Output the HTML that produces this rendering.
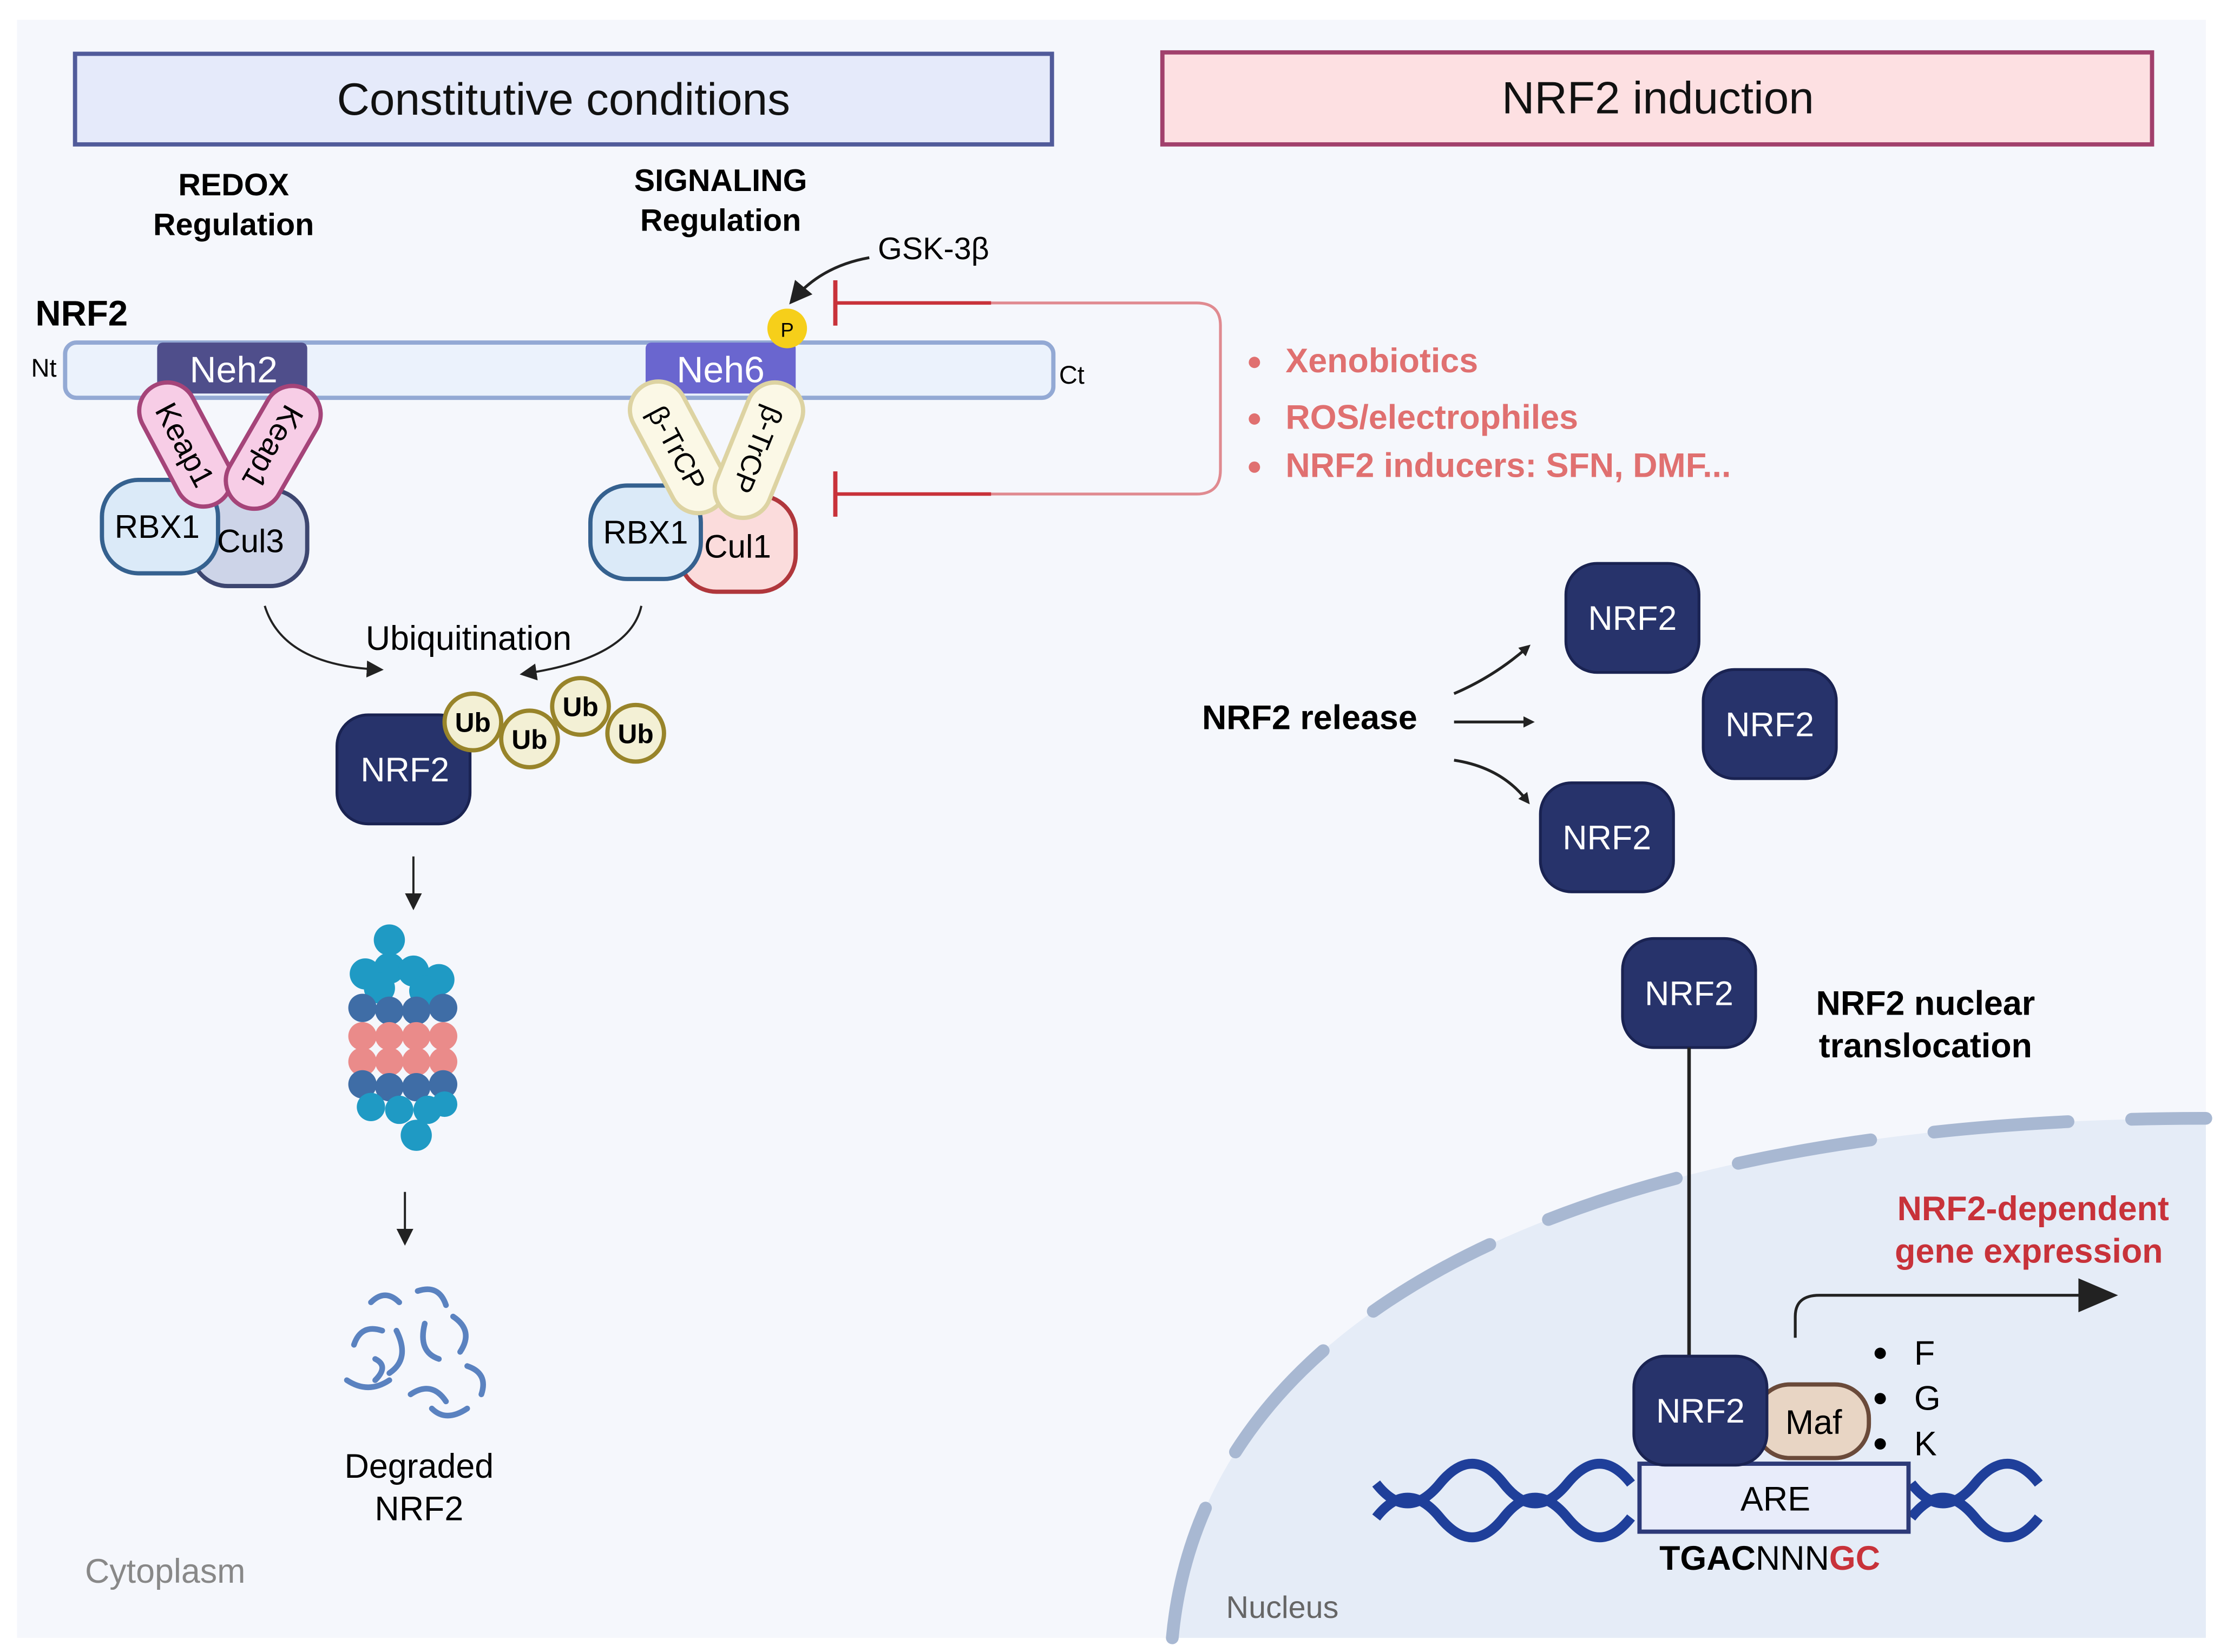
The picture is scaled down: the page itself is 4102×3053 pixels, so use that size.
<!DOCTYPE html>
<html><head><meta charset="utf-8"><style>html,body{margin:0;padding:0;background:#fff}svg{display:block}text{font-family:"Liberation Sans",sans-serif}</style></head><body>
<svg width="4102" height="3053" viewBox="0 0 1568 1167" xmlns="http://www.w3.org/2000/svg">
<defs>
<marker id="ah" markerWidth="8" markerHeight="8" refX="6" refY="4" orient="auto" markerUnits="strokeWidth"><path d="M0,0 L8,4 L0,8 z" fill="#222"/></marker>
<marker id="ahb" markerWidth="4" markerHeight="4" refX="2" refY="2" orient="auto" markerUnits="strokeWidth"><path d="M0,0 L4,2 L0,4 z" fill="#222"/></marker>
</defs>
<rect x="0" y="0" width="1568" height="1167" fill="#fff"/>
<rect x="12" y="14" width="1546" height="1143" fill="#f5f7fc"/>
<!-- nucleus -->
<path d="M828,1157 C850,920 1130,790 1558,790 L1558,1157 Z" fill="#e5ecf7"/>
<path d="M828,1157 C850,920 1130,790 1558,790" fill="none" stroke="#a8b8d2" stroke-width="9" stroke-dasharray="95,45" stroke-linecap="round"/>
<text x="866" y="1143" font-size="22" fill="#666">Nucleus</text>
<text x="60" y="1118" font-size="24" fill="#888">Cytoplasm</text>
<!-- header boxes -->
<rect x="53" y="38" width="690" height="64" fill="#e5eafa" stroke="#515b9a" stroke-width="3"/>
<text x="398" y="81" font-size="32" text-anchor="middle" fill="#111">Constitutive conditions</text>
<rect x="821" y="37" width="699" height="65" fill="#fde0e2" stroke="#a1406c" stroke-width="3"/>
<text x="1171" y="80" font-size="32" text-anchor="middle" fill="#111">NRF2 induction</text>
<text x="165" y="138" font-size="22" font-weight="bold" text-anchor="middle">REDOX</text>
<text x="165" y="166" font-size="22" font-weight="bold" text-anchor="middle">Regulation</text>
<text x="509" y="135" font-size="22" font-weight="bold" text-anchor="middle">SIGNALING</text>
<text x="509" y="163" font-size="22" font-weight="bold" text-anchor="middle">Regulation</text>
<text x="25" y="230" font-size="25" font-weight="bold">NRF2</text>
<text x="22" y="266" font-size="18">Nt</text>
<text x="748" y="271" font-size="18">Ct</text>
<rect x="46" y="242" width="698" height="39" rx="8" fill="#ebf2fc" stroke="#93a9d4" stroke-width="3"/>
<rect x="111" y="242" width="106" height="36" rx="4" fill="#4f4e8b"/>
<text x="165" y="270" font-size="26" fill="#fff" text-anchor="middle">Neh2</text>
<rect x="456" y="242" width="106" height="36" rx="4" fill="#6a66cf"/>
<text x="509" y="270" font-size="26" fill="#fff" text-anchor="middle">Neh6</text>
<!-- GSK -->
<text x="620" y="183" font-size="22">GSK-3β</text>
<path d="M614,182 Q580,188 560,212" fill="none" stroke="#222" stroke-width="2" marker-end="url(#ah)"/>
<circle cx="556" cy="232" r="14" fill="#f6cf1a"/>
<text x="556" y="238" font-size="14" text-anchor="middle">P</text>
<!-- inhibition lines -->
<path d="M590,214 L845,214 Q862,214 862,230 L862,332 Q862,349 845,349 L590,349" fill="none" stroke="#e08a90" stroke-width="2"/>
<path d="M590,214 L700,214 M590,349 L700,349" stroke="#c8323a" stroke-width="2.5"/>
<path d="M590,198 V230 M590,333 V365" stroke="#c8323a" stroke-width="3"/>
<g font-size="24" font-weight="bold" fill="#e07070">
<circle cx="886" cy="256" r="4" fill="#e07070"/><text x="908" y="263">Xenobiotics</text>
<circle cx="886" cy="296" r="4" fill="#e07070"/><text x="908" y="303">ROS/electrophiles</text>
<circle cx="886" cy="330" r="4" fill="#e07070"/><text x="908" y="337">NRF2 inducers: SFN, DMF...</text>
</g>
<!-- left complex -->
<rect x="135" y="346" width="82" height="68" rx="26" fill="#cdd4e8" stroke="#3d4670" stroke-width="3"/>
<rect x="72" y="339" width="82" height="66" rx="26" fill="#dbeaf8" stroke="#35618f" stroke-width="3"/>
<text x="111" y="380" font-size="23" text-anchor="middle">RBX1</text>
<text x="177" y="390" font-size="23" text-anchor="middle">Cul3</text>
<g transform="translate(131,314) rotate(62)"><rect x="-47" y="-20" width="94" height="40" rx="20" fill="#f7cde6" stroke="#a54479" stroke-width="3"/><text x="0" y="8" font-size="22" text-anchor="middle">Keap1</text></g>
<g transform="translate(193,316) rotate(120)"><rect x="-47" y="-20" width="94" height="40" rx="20" fill="#f7cde6" stroke="#a54479" stroke-width="3"/><text x="0" y="8" font-size="22" text-anchor="middle">Keap1</text></g>
<!-- right complex -->
<rect x="480" y="350" width="82" height="68" rx="26" fill="#fbdcdc" stroke="#b0373c" stroke-width="3"/>
<rect x="417" y="343" width="78" height="66" rx="26" fill="#dbeaf8" stroke="#35618f" stroke-width="3"/>
<text x="456" y="384" font-size="23" text-anchor="middle">RBX1</text>
<text x="521" y="394" font-size="23" text-anchor="middle">Cul1</text>
<g transform="translate(479,316) rotate(62)"><rect x="-50" y="-20" width="100" height="40" rx="20" fill="#fbf8e6" stroke="#ddd3a2" stroke-width="3"/><text x="0" y="8" font-size="20" text-anchor="middle">β-TrCP</text></g>
<g transform="translate(536,318) rotate(112)"><rect x="-50" y="-20" width="100" height="40" rx="20" fill="#fbf8e6" stroke="#ddd3a2" stroke-width="3"/><text x="0" y="8" font-size="20" text-anchor="middle">β-TrCP</text></g>
<!-- ubiquitination -->
<text x="331" y="459" font-size="24" text-anchor="middle">Ubiquitination</text>
<path d="M187,428 Q200,470 268,473" fill="none" stroke="#222" stroke-width="1.5" marker-end="url(#ah)"/>
<path d="M453,428 Q445,465 370,476" fill="none" stroke="#222" stroke-width="1.5" marker-end="url(#ah)"/>
<rect x="238" y="505" width="94" height="77" rx="22" fill="#27336b" stroke="#1a2352" stroke-width="2"/>
<text x="286" y="552" font-size="24" fill="#fff" text-anchor="middle">NRF2</text>
<g fill="#f3f0d5" stroke="#98842a" stroke-width="3" >
<circle cx="334" cy="510" r="20"/><circle cx="374" cy="522" r="20"/><circle cx="410" cy="499" r="20"/><circle cx="449" cy="518" r="20"/>
</g>
<g font-size="19" font-weight="bold" text-anchor="middle"><text x="334" y="517">Ub</text><text x="374" y="529">Ub</text><text x="410" y="506">Ub</text><text x="449" y="525">Ub</text></g>
<path d="M292,605 V640" stroke="#222" stroke-width="1.5" marker-end="url(#ah)"/>
<!-- proteasome -->
<g>
<circle cx="275" cy="664" r="11" fill="#1f9ac4"/>
<g fill="#1f9ac4"><circle cx="258" cy="688" r="11"/><circle cx="275" cy="684" r="11"/><circle cx="292" cy="686" r="11"/><circle cx="310" cy="692" r="11"/><circle cx="268" cy="698" r="11"/><circle cx="300" cy="700" r="11"/></g>
<g fill="#3f6da6"><circle cx="256" cy="712" r="10"/><circle cx="275" cy="714" r="10"/><circle cx="294" cy="714" r="10"/><circle cx="313" cy="712" r="10"/></g>
<g fill="#ea8b8a"><circle cx="256" cy="732" r="10"/><circle cx="275" cy="732" r="10"/><circle cx="294" cy="732" r="10"/><circle cx="313" cy="732" r="10"/><circle cx="256" cy="750" r="10"/><circle cx="275" cy="750" r="10"/><circle cx="294" cy="750" r="10"/><circle cx="313" cy="750" r="10"/></g>
<g fill="#3f6da6"><circle cx="256" cy="766" r="10"/><circle cx="275" cy="768" r="10"/><circle cx="294" cy="768" r="10"/><circle cx="313" cy="766" r="10"/></g>
<g fill="#1f9ac4"><circle cx="262" cy="782" r="10"/><circle cx="282" cy="784" r="10"/><circle cx="302" cy="784" r="10"/><circle cx="314" cy="780" r="9"/></g>
<circle cx="294" cy="802" r="11" fill="#1f9ac4"/>
</g>
<path d="M286,842 V877" stroke="#222" stroke-width="1.5" marker-end="url(#ah)"/>
<!-- degraded -->
<g fill="none" stroke="#5a82c0" stroke-width="4" stroke-linecap="round">
<path d="M262,920 q10,-10 20,0"/><path d="M295,912 q15,-5 20,10"/><path d="M250,950 q5,-15 20,-10"/><path d="M280,940 q10,20 -5,30"/><path d="M300,935 q-5,20 10,25"/><path d="M320,930 q15,10 5,25"/><path d="M245,975 q15,10 30,0"/><path d="M290,985 q15,-10 25,5"/><path d="M330,965 q15,5 10,20"/><path d="M305,995 q10,10 25,0"/><path d="M265,960 q10,5 0,15"/>
</g>
<text x="296" y="1044" font-size="24" text-anchor="middle">Degraded</text>
<text x="296" y="1074" font-size="24" text-anchor="middle">NRF2</text>
<!-- NRF2 release -->
<text x="925" y="515" font-size="24" font-weight="bold" text-anchor="middle">NRF2 release</text>
<path d="M1027,490 Q1055,478 1078,458" fill="none" stroke="#222" stroke-width="2" marker-end="url(#ahb)"/>
<path d="M1027,510 H1080" fill="none" stroke="#222" stroke-width="2" marker-end="url(#ahb)"/>
<path d="M1027,537 Q1060,542 1078,565" fill="none" stroke="#222" stroke-width="2" marker-end="url(#ahb)"/>
<g fill="#27336b" stroke="#1a2352" stroke-width="2">
<rect x="1106" y="398" width="94" height="77" rx="22"/>
<rect x="1203" y="473" width="94" height="77" rx="22"/>
<rect x="1088" y="553" width="94" height="77" rx="22"/>
<rect x="1146" y="663" width="94" height="77" rx="22"/>
</g>
<g font-size="24" fill="#fff" text-anchor="middle">
<text x="1153" y="445">NRF2</text><text x="1250" y="520">NRF2</text><text x="1135" y="600">NRF2</text><text x="1193" y="710">NRF2</text>
</g>
<text x="1360" y="717" font-size="24" font-weight="bold" text-anchor="middle">NRF2 nuclear</text>
<text x="1360" y="747" font-size="24" font-weight="bold" text-anchor="middle">translocation</text>
<path d="M1193,740 V960" stroke="#222" stroke-width="2.5"/>
<text x="1436" y="862" font-size="24" font-weight="bold" fill="#c8323a" text-anchor="middle">NRF2-dependent</text>
<text x="1433" y="892" font-size="24" font-weight="bold" fill="#c8323a" text-anchor="middle">gene expression</text>
<path d="M1268,945 V930 Q1268,915 1285,915 L1472,915" fill="none" stroke="#222" stroke-width="2"/>
<path d="M1468,903 L1496,915 L1468,927 Z" fill="#222"/>
<g font-size="24"><circle cx="1328" cy="956" r="4"/><text x="1352" y="964">F</text><circle cx="1328" cy="988" r="4"/><text x="1352" y="996">G</text><circle cx="1328" cy="1020" r="4"/><text x="1352" y="1028">K</text></g>
<!-- DNA -->
<g fill="none" stroke="#1f3f9a" stroke-width="7">
<path d="M972,1048 q22,28 45,0 t45,0 t45,0 t45,0 M1350,1048 q22,28 45,0 t45,0"/>
<path d="M972,1072 q22,-28 45,0 t45,0 t45,0 t45,0 M1350,1072 q22,-28 45,0 t45,0"/>
</g>
<rect x="1158" y="1034" width="190" height="48" fill="#e8ecfa" stroke="#2d3a78" stroke-width="3"/>
<text x="1254" y="1067" font-size="24" text-anchor="middle">ARE</text>
<rect x="1240" y="978" width="80" height="52" rx="24" fill="#e8d5c4" stroke="#6a4a3a" stroke-width="3"/>
<text x="1281" y="1013" font-size="24" text-anchor="middle">Maf</text>
<rect x="1154" y="958" width="94" height="77" rx="22" fill="#27336b" stroke="#1a2352" stroke-width="2"/>
<text x="1201" y="1005" font-size="24" fill="#fff" text-anchor="middle">NRF2</text>
<text x="1250" y="1109" font-size="24" text-anchor="middle" font-weight="bold">TGAC<tspan font-weight="normal">NNN</tspan><tspan fill="#c8323a">GC</tspan></text>
</svg>
</body></html>
